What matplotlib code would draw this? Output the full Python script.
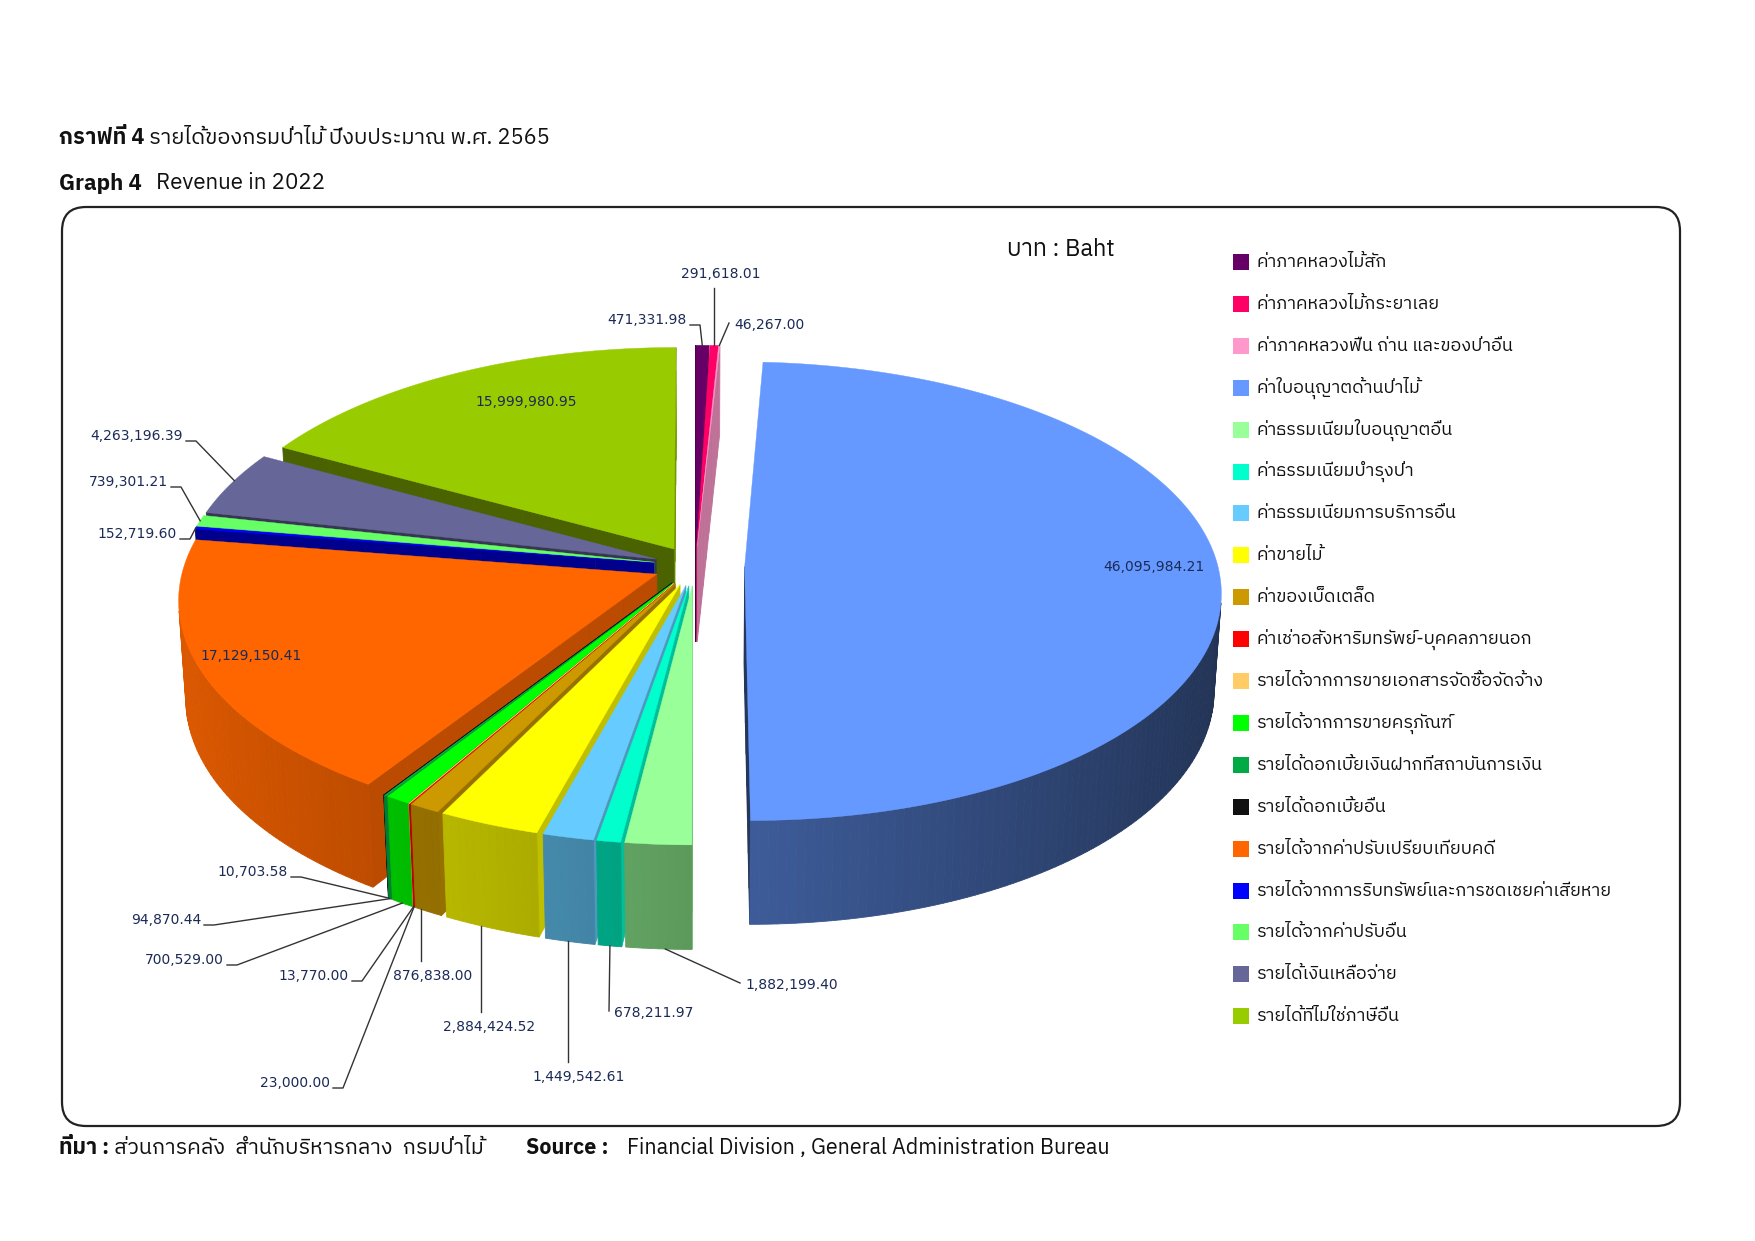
import numpy as np
import matplotlib
matplotlib.use('Agg')
import matplotlib.pyplot as plt
from matplotlib.patches import Polygon, Rectangle, FancyBboxPatch
from matplotlib import colors as mcolors
from matplotlib import font_manager

# ---- data ----
categories = [
    'ค่าภาคหลวงไม้สัก',
    'ค่าภาคหลวงไม้กระยาเลย',
    'ค่าภาคหลวงฟืน ถ่าน และของป่าอื่น',
    'ค่าใบอนุญาตด้านป่าไม้',
    'ค่าธรรมเนียมใบอนุญาตอื่น',
    'ค่าธรรมเนียมบำรุงป่า',
    'ค่าธรรมเนียมการบริการอื่น',
    'ค่าขายไม้',
    'ค่าของเบ็ดเตล็ด',
    'ค่าเช่าอสังหาริมทรัพย์-บุคคลภายนอก',
    'รายได้จากการขายเอกสารจัดซื้อจัดจ้าง',
    'รายได้จากการขายครุภัณฑ์',
    'รายได้ดอกเบี้ยเงินฝากที่สถาบันการเงิน',
    'รายได้ดอกเบี้ยอื่น',
    'รายได้จากค่าปรับเปรียบเทียบคดี',
    'รายได้จากการริบทรัพย์และการชดเชยค่าเสียหาย',
    'รายได้จากค่าปรับอื่น',
    'รายได้เงินเหลือจ่าย',
    'รายได้ที่ไม่ใช่ภาษีอื่น',
]
values = [471331.98, 291618.01, 46267.00, 46095984.21, 1882199.40, 678211.97,
          1449542.61, 2884424.52, 876838.00, 23000.00, 13770.00, 700529.00,
          94870.44, 10703.58, 17129150.41, 152719.60, 739301.21, 4263196.39,
          15999980.95]
slice_colors = ['#660066', '#ff0066', '#ff99cc', '#6699ff', '#99ff99', '#00ffcc',
                '#66ccff', '#ffff00', '#cc9900', '#ff0000', '#ffcc66', '#00ff00',
                '#00aa44', '#111111', '#ff6600', '#0000ff', '#66ff66', '#666699',
                '#99cc00']

title_th = ('กราฟที่ 4', ' รายได้ของกรมป่าไม้ ปีงบประมาณ พ.ศ. 2565')
title_en = ('Graph 4', 'Revenue in 2022')
unit_text = 'บาท : Baht'
source_th = ('ที่มา :', ' ส่วนการคลัง  สำนักบริหารกลาง  กรมป่าไม้')
source_en = ('Source :', 'Financial Division , General Administration Bureau')

# ---- layout (pixels of the 1755x1241 picture) ----
W, H = 1755, 1241
CX, CY = 695, 566          # centre of the pie top
D = 8.2                    # camera distance (pie radius = 1)
K = 3880                   # projection scale
ALPHA = np.radians(28.6)   # view elevation
THICK = 0.235              # pie height
explode = [0.088] * len(values)
explode[3] = 0.105

# value label placement: text x, y, mode, fraction along the arc, rim
label_pos = [
    (687, 320, 'left', 0.5, 'top'),
    (721, 274, 'up', 0.5, 'top'),
    (734, 325, 'right', 0.5, 'top'),
    (1154, 567, 'in', 0, ''),
    (745, 985, 'right', 0.4, 'bot'),
    (614, 1013, 'right', 0.5, 'bot'),
    (579, 1077, 'down', 0.55, 'bot'),
    (489, 1027, 'down', 0.62, 'bot'),
    (433, 976, 'down', 0.8, 'bot'),
    (330, 1083, 'left', 0.5, 'bot'),
    (349, 976, 'left', 0.5, 'bot'),
    (224, 960, 'left', 0.5, 'bot'),
    (201, 920, 'left', 0.5, 'bot'),
    (288, 872, 'left', 0.5, 'bot'),
    (251, 656, 'in', 0, ''),
    (177, 534, 'left', 0.5, 'top'),
    (168, 482, 'left', 0.5, 'top'),
    (183, 436, 'left', 0.55, 'top'),
    (526, 402, 'in', 0, ''),
]


def thai_font():
    """Look for any installed font that has Thai glyphs"""
    try:
        from fontTools.ttLib import TTFont
    except ImportError:
        return None
    entries = sorted(font_manager.fontManager.ttflist,
                     key=lambda f: 0 if 'thai' in f.name.lower() else 1)
    tried = set()
    for f in entries:
        if f.fname in tried:
            continue
        tried.add(f.fname)
        try:
            cmap = TTFont(f.fname, fontNumber=0, lazy=True).getBestCmap()
        except Exception:
            continue
        if cmap and 0x0E01 in cmap and 0x0E48 in cmap:
            return f.name
    return None


th = thai_font()
family = [th, 'DejaVu Sans'] if th else ['DejaVu Sans']
plt.rcParams['font.family'] = family

fig = plt.figure(figsize=(W / 100, H / 100), dpi=100)
ax = fig.add_axes([0, 0, 1, 1])
ax.set_xlim(0, W)
ax.set_ylim(H, 0)
ax.axis('off')

ca, sa = np.cos(ALPHA), np.sin(ALPHA)
cam = np.array([0.0, -D * ca, D * sa])
dz = np.array([0, 0, THICK])
light = np.radians(-10)


def project(p):
    p = np.atleast_2d(np.asarray(p, dtype=float))
    x, y, z = p[:, 0], p[:, 1], p[:, 2]
    dep = D + y * ca - z * sa
    up = y * sa + z * ca
    return np.column_stack([CX + K * x / dep, CY - K * up / dep])


def shade(c, f):
    r, g, b = mcolors.to_rgb(c)
    return (r * f, g * f, b * f)


total = float(sum(values))
ends = np.cumsum(values) / total * 360.0
starts = ends - np.array(values) / total * 360.0

walls = []
tops = []
geo = []
for i, c in enumerate(slice_colors):
    a0 = 90 - starts[i]
    a1 = 90 - ends[i]
    b = np.radians((a0 + a1) / 2)
    off = explode[i] * np.array([np.cos(b), np.sin(b), 0.0])
    geo.append((a0, a1, off))
    nseg = max(2, int(np.ceil(a0 - a1)) + 1)
    angs = np.radians(np.linspace(a0, a1, nseg))
    rim = np.column_stack([np.cos(angs), np.sin(angs), np.zeros(nseg)]) + off
    tops.append((np.vstack([off, rim]), c))

    # curved outside wall
    for j in range(nseg - 1):
        am = (angs[j] + angs[j + 1]) / 2
        nrm = np.array([np.cos(am), np.sin(am), 0])
        mid = off + np.array([np.cos(am), np.sin(am), -THICK / 2])
        if np.dot(nrm, cam - mid) <= 0:
            continue
        q = [rim[j], rim[j + 1], rim[j + 1] - dz, rim[j] - dz]
        f = 0.6 + 0.27 * np.cos(am - np.pi)
        walls.append((np.linalg.norm(cam - mid), q, shade(c, f)))

    # straight faces along the cuts
    for a, side in ((angs[0], 1), (angs[-1], -1)):
        na = a + side * np.pi / 2
        nrm = np.array([np.cos(na), np.sin(na), 0])
        u = np.array([np.cos(a), np.sin(a), 0])
        f = 0.55 + 0.2 * np.cos(na - light)
        rs = np.linspace(0, 1, 9)
        for k in range(8):
            p1 = off + rs[k] * u
            p2 = off + rs[k + 1] * u
            mid = (p1 + p2) / 2 - dz / 2
            if np.dot(nrm, cam - mid) <= 0:
                continue
            walls.append((np.linalg.norm(cam - mid), [p1, p2, p2 - dz, p1 - dz],
                          shade(c, f)))

walls.sort(key=lambda w: -w[0])
for _, q, col in walls:
    ax.add_patch(Polygon(project(q), closed=True, facecolor=col, edgecolor=col,
                         linewidth=0.6, zorder=2))
for pts, col in tops:
    ax.add_patch(Polygon(project(pts), closed=True, facecolor=col, edgecolor=col,
                         linewidth=0.3, zorder=3))

# ---- value labels with leader lines ----
num_color = '#1b2a56'
line_color = '#333333'
for i, (tx, ty, mode, frac, rimside) in enumerate(label_pos):
    txt = f'{values[i]:,.2f}'
    if mode == 'in':
        ax.text(tx, ty, txt, ha='center', va='center', fontsize=10,
                color=num_color, family='DejaVu Sans', zorder=5)
        continue
    a0, a1, off = geo[i]
    a = np.radians(a0 + frac * (a1 - a0))
    z = 0.0 if rimside == 'top' else -THICK
    anchor = project(off + np.array([np.cos(a), np.sin(a), z]))[0]
    if mode == 'left':
        ha = 'right'
        xs = [tx + 3, tx + 13, anchor[0]]
        ys = [ty + 5, ty + 5, anchor[1]]
    elif mode == 'right':
        ha = 'left'
        xs = [tx - 5, anchor[0]]
        ys = [ty - 2, anchor[1]]
    elif mode == 'up':
        ha = 'center'
        xs = [anchor[0], anchor[0]]
        ys = [ty + 14, anchor[1]]
    else:
        ha = 'center'
        xs = [anchor[0], anchor[0]]
        ys = [anchor[1], ty - 15]
    ax.text(tx, ty, txt, ha=ha, va='center', fontsize=10,
            color=num_color, family='DejaVu Sans', zorder=5)
    ax.plot(xs, ys, color=line_color, linewidth=1, zorder=4)

# ---- frame, titles, legend ----
ax.add_patch(FancyBboxPatch((62, 207), 1680 - 62, 1126 - 207,
                            boxstyle='round,pad=0,rounding_size=24',
                            facecolor='none', edgecolor='#222222', linewidth=1.6,
                            zorder=1))

renderer = fig.canvas.get_renderer()


def two_part(x, y, bold_txt, reg_txt, size, gap=0, x2=None):
    t = ax.text(x, y, bold_txt, fontsize=size, fontweight='bold', ha='left',
                va='center', color='#111111')
    if x2 is None:
        x2 = t.get_window_extent(renderer=renderer).x1 + gap
    ax.text(x2, y, reg_txt, fontsize=size, ha='left', va='center',
            color='#111111')


two_part(59, 138, title_th[0], title_th[1], 15.7)
two_part(59, 183, title_en[0], title_en[1], 16, gap=14)
ax.text(1061, 249, unit_text, fontsize=17, ha='center', va='center',
        color='#111111')

for i, (name, col) in enumerate(zip(categories, slice_colors)):
    y = 262 + i * 41.9
    ax.add_patch(Rectangle((1233, y - 8), 16, 16, facecolor=col, edgecolor='none'))
    ax.text(1257, y, name, fontsize=13, ha='left', va='center', color='#111111')

two_part(59, 1148, source_th[0], source_th[1], 15.5)
two_part(526, 1148, source_en[0], source_en[1], 15.5, x2=627)

fig.savefig('out.png', dpi=100)
